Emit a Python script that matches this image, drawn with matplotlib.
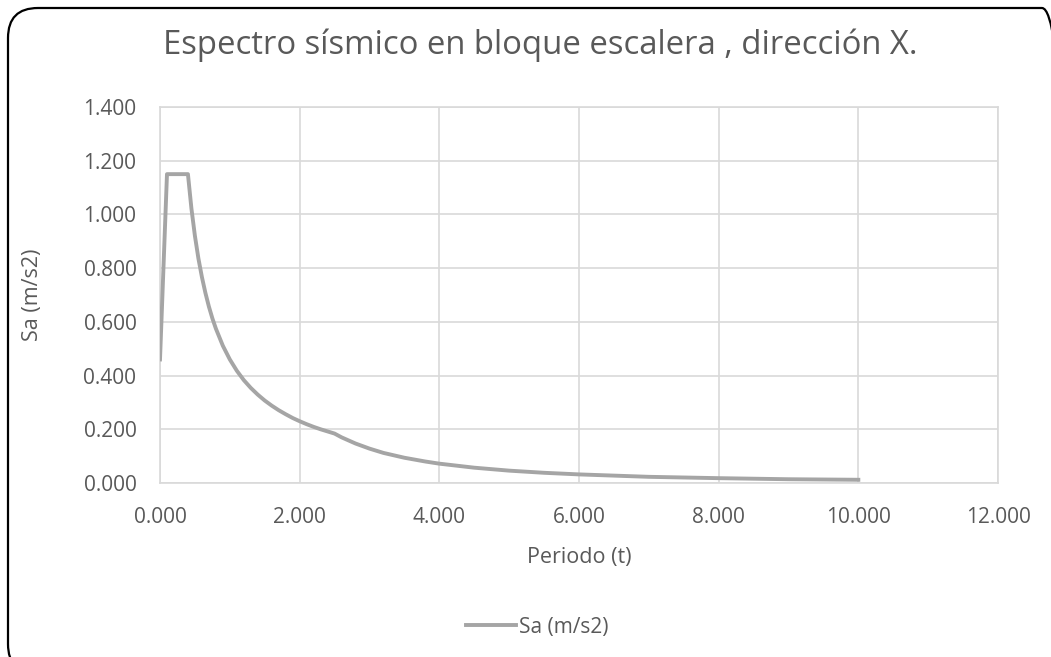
import matplotlib
matplotlib.use("Agg")
import matplotlib.pyplot as plt
from matplotlib.patches import FancyBboxPatch
from matplotlib.ticker import FormatStrFormatter, MultipleLocator

# values
periodo = [0.0, 0.1, 0.4, 0.45, 0.5, 0.55, 0.6, 0.65, 0.7, 0.75, 0.8, 0.9, 1.0,
           1.1, 1.2, 1.3, 1.4, 1.5, 1.6, 1.7, 1.8, 1.9, 2.0, 2.1, 2.2, 2.3, 2.4,
           2.5, 2.6, 2.8, 3.0, 3.2, 3.5, 3.8, 4.0, 4.5, 5.0, 5.5, 6.0, 7.0, 8.0,
           9.0, 10.0]
sa = [0.460, 1.150, 1.150, 1.022, 0.920, 0.836, 0.767, 0.708, 0.657, 0.613,
      0.575, 0.511, 0.460, 0.418, 0.383, 0.354, 0.329, 0.307, 0.288, 0.271,
      0.256, 0.242, 0.230, 0.219, 0.209, 0.200, 0.192, 0.184, 0.170, 0.147,
      0.128, 0.112, 0.094, 0.080, 0.072, 0.057, 0.046, 0.038, 0.032, 0.023,
      0.018, 0.014, 0.012]

title = "Espectro sísmico en bloque escalera , dirección X."
x_label = "Periodo (t)"
y_label = "Sa (m/s2)"
series_label = "Sa (m/s2)"

text_color = "#595959"
grid_color = "#d9d9d9"
line_color = "#a5a5a5"

plt.rcParams["font.family"] = ["Open Sans", "DejaVu Sans"]

W, H = 1051, 657
fig = plt.figure(figsize=(W / 100, H / 100), dpi=100)
fig.patch.set_facecolor("white")

# rounded chart border, running off the right and bottom edges
border = FancyBboxPatch((8, -17), 1064, 649 + 17,
                        boxstyle="round,pad=0,rounding_size=30",
                        transform=None, facecolor="none",
                        edgecolor="black", linewidth=1.6)
fig.patches.append(border)

left, right, top, bottom = 160, 998, 107, 483
ax = fig.add_axes([left / W, (H - bottom) / H, (right - left) / W, (bottom - top) / H])

ax.plot(periodo, sa, color=line_color, linewidth=2.8, label=series_label,
        solid_joinstyle="round", zorder=3)

ax.set_xlim(0, 12)
ax.set_ylim(0, 1.4)
ax.xaxis.set_major_locator(MultipleLocator(2))
ax.yaxis.set_major_locator(MultipleLocator(0.2))
ax.xaxis.set_major_formatter(FormatStrFormatter("%.3f"))
ax.yaxis.set_major_formatter(FormatStrFormatter("%.3f"))
ax.grid(True, color=grid_color, linewidth=1.2)
ax.set_axisbelow(True)
for spine in ax.spines.values():
    spine.set_color(grid_color)
    spine.set_linewidth(1.2)
ax.tick_params(length=0, labelsize=15, colors=text_color)
ax.tick_params(axis="x", pad=17)
ax.tick_params(axis="y", pad=17)

ax.set_xlabel(x_label, fontsize=15.5, color=text_color, va="center")
ax.set_ylabel(y_label, fontsize=15.5, color=text_color, va="center")
ax.xaxis.set_label_coords(0.5, -(557 - bottom) / (bottom - top))
ax.yaxis.set_label_coords(-(left - 33) / (right - left), 0.5)

fig.text(540 / W, 1 - 45 / H, title, fontsize=23.7,
         color=text_color, ha="center", va="center")

leg = fig.legend(loc="center", bbox_to_anchor=(537 / W, 1 - 627 / H),
                 frameon=False, fontsize=15, handlelength=2.4,
                 handletextpad=0.15, labelcolor=text_color)

fig.savefig("out.png", dpi=100)
